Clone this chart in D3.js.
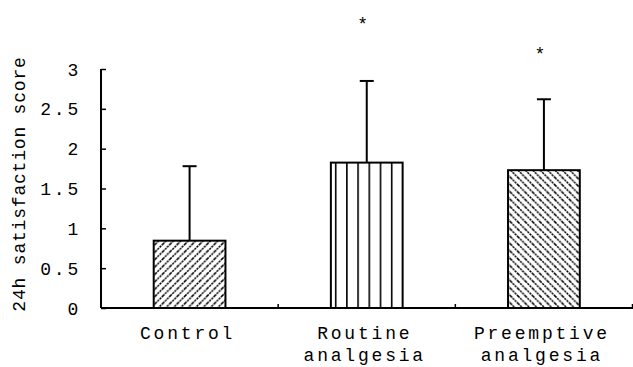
<!DOCTYPE html>
<html>
<head>
<meta charset="utf-8">
<script src="https://cdn.jsdelivr.net/npm/d3@7"></script>
<style>
  body { margin: 0; background: #fff; }
  svg text { font-family: "Liberation Mono", "DejaVu Sans Mono", monospace; fill: #000; }
</style>
</head>
<body>
<svg id="chart" width="633" height="367"></svg>
<script>
// values
const categories = ["Control", "Routine\nanalgesia", "Preemptive\nanalgesia"];
const means = [0.845, 1.825, 1.73];
const errUpper = [1.78, 2.85, 2.62];
const starLevel = [null, 3.6, 3.22];   // where the * marks sit, in score units
const yTicks = [0, 0.5, 1, 1.5, 2, 2.5, 3];
const patterns = ["fwd", "vert", "back"];

const svg = d3.select("#chart");

const x = d3.scaleBand()
    .domain(categories)
    .range([101, 632.5])
    .padding(0);

const y = d3.scaleLinear()
    .domain([0, 3])
    .range([308, 69]);

// hatch patterns
const defs = svg.append("defs");

function diagPattern(id, dir) {
    const p = defs.append("pattern")
        .attr("id", id)
        .attr("patternUnits", "userSpaceOnUse")
        .attr("width", 7.4)
        .attr("height", 7.4);
    if (dir === "fwd") {
        p.append("path").attr("d", "M-1,1 l2,-2 M0,7.4 l7.4,-7.4 M6.4,8.4 l2,-2");
    } else {
        p.append("path").attr("d", "M-1,6.4 l2,2 M0,0 l7.4,7.4 M6.4,-1 l2,2");
    }
    p.select("path")
        .attr("stroke", "#000")
        .attr("stroke-width", 1.5)
        .attr("stroke-dasharray", "2.2 0.8");
}
diagPattern("fwd", "fwd");
diagPattern("back", "back");

const bw = x.bandwidth() * 0.405;
const vx = x(categories[1]) + x.bandwidth() / 2 - bw / 2;
defs.append("pattern")
    .attr("id", "vert")
    .attr("patternUnits", "userSpaceOnUse")
    .attr("x", vx + 4)
    .attr("y", 0)
    .attr("width", 11.2)
    .attr("height", 10)
  .append("line")
    .attr("x1", 0).attr("x2", 0)
    .attr("y1", 0).attr("y2", 10)
    .attr("stroke", "#000")
    .attr("stroke-width", 3.2);

// bars
const idx = d3.range(categories.length);
const cx = i => x(categories[i]) + x.bandwidth() / 2;

svg.append("g").selectAll("rect")
    .data(idx)
    .join("rect")
    .attr("x", i => cx(i) - bw / 2)
    .attr("y", i => y(means[i]))
    .attr("width", bw)
    .attr("height", i => y(0) - y(means[i]))
    .attr("fill", i => "url(#" + patterns[i] + ")")
    .attr("stroke", "#000")
    .attr("stroke-width", 2);

// error bars (upper only)
const eb = svg.append("g").attr("stroke", "#000").attr("stroke-width", 2);
eb.selectAll("line.v")
    .data(idx)
    .join("line")
    .attr("class", "v")
    .attr("x1", i => cx(i)).attr("x2", i => cx(i))
    .attr("y1", i => y(means[i])).attr("y2", i => y(errUpper[i]));
eb.selectAll("line.c")
    .data(idx)
    .join("line")
    .attr("class", "c")
    .attr("x1", i => cx(i) - 7).attr("x2", i => cx(i) + 7)
    .attr("y1", i => y(errUpper[i])).attr("y2", i => y(errUpper[i]));

// significance stars
svg.append("g").selectAll("text")
    .data(idx.filter(i => starLevel[i] != null))
    .join("text")
    .attr("x", i => cx(i) - 4)
    .attr("y", i => y(starLevel[i]) + 9)
    .attr("text-anchor", "middle")
    .style("font-size", "18px")
    .text("*");

// y axis
const yAxis = svg.append("g")
    .attr("transform", "translate(101,0)")
    .call(d3.axisRight(y).tickValues(yTicks).tickSize(5).tickFormat(d => String(d)));
yAxis.select(".domain").attr("d", "M0," + y(3) + "V" + y(0)).attr("stroke-width", 2);
yAxis.selectAll(".tick line").attr("stroke-width", 1.5);
yAxis.selectAll(".tick text")
    .attr("x", -20)
    .attr("dy", "0.34em")
    .attr("text-anchor", "end")
    .style("font-size", "18px")
    .style("letter-spacing", "2.8px");

// x axis
const xAxis = svg.append("g").attr("class", "xaxis");
xAxis.append("line")
    .attr("x1", 101).attr("x2", 633)
    .attr("y1", y(0)).attr("y2", y(0))
    .attr("stroke", "#000").attr("stroke-width", 2);
xAxis.selectAll("line.tk")
    .data(categories.slice(1).concat([null]))
    .join("line")
    .attr("class", "tk")
    .attr("x1", d => d ? x(d) : 632.5).attr("x2", d => d ? x(d) : 632.5)
    .attr("y1", y(0)).attr("y2", y(0) - 4)
    .attr("stroke", "#000").attr("stroke-width", 1.5);

const lbl = xAxis.selectAll("text")
    .data(idx)
    .join("text")
    .attr("x", i => cx(i) - 2)
    .attr("y", 339)
    .attr("text-anchor", "middle")
    .style("font-size", "18px")
    .style("letter-spacing", "2.8px");
lbl.selectAll("tspan")
    .data(i => categories[i].split("\n"))
    .join("tspan")
    .attr("x", function() { return this.parentNode.getAttribute("x"); })
    .attr("dy", (d, j) => j === 0 ? 0 : 22)
    .text(d => d);

// y title
svg.append("text")
    .attr("transform", "translate(25,184) rotate(-90)")
    .attr("text-anchor", "middle")
    .style("font-size", "18px")
    .style("letter-spacing", "0.8px")
    .text("24h satisfaction score");
</script>
</body>
</html>
